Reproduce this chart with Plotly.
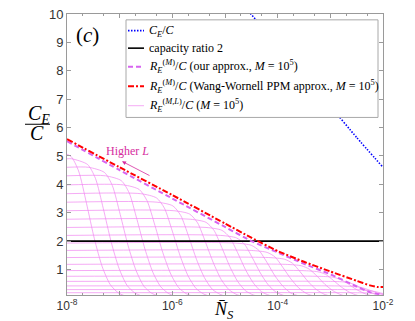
import plotly.graph_objects as go

# ---------------- data (x given as log10 of N_S) ----------------
ce_exp = [-4.6, -4.0, -3.5, -3.0, -2.5, -2.0]
ce_val = [10.2, 8.9, 7.8, 6.75, 5.65, 4.6]

ratio2_exp = [-8, -2]
ratio2_val = [2, 2]

ours_exp = [-8, -7, -6, -5, -4.5, -4, -3.5, -3, -2.5, -2.25, -2]
ours_val = [5.52, 4.5, 3.5, 2.5, 2.0, 1.6, 1.2, 0.83, 0.4, 0.2, 0.1]

ww_exp = [-8, -7, -6, -5, -4.5, -4, -3.5, -3, -2.5, -2.25, -2.1, -2]
ww_val = [5.59, 4.6, 3.62, 2.62, 2.12, 1.65, 1.27, 0.93, 0.6, 0.44, 0.38, 0.38]

# R_E^(M,L)/C family, one curve per L
mesh_exp = [
    [-8.23, -7.93, -7.78, -7.63, -7.48, -7.33, -7.18, -7.03, -6.88],
    [-8, -7.91, -7.61, -7.46, -7.31, -7.16, -7.01, -6.86, -6.71, -6.56],
    [-8, -7.59, -7.29, -7.14, -6.99, -6.84, -6.69, -6.54, -6.39, -6.24],
    [-8, -7.27, -6.97, -6.82, -6.67, -6.52, -6.37, -6.22, -6.07, -5.92],
    [-8, -6.93, -6.63, -6.48, -6.33, -6.18, -6.03, -5.88, -5.73, -5.58],
    [-8, -6.60, -6.30, -6.15, -6.00, -5.85, -5.70, -5.55, -5.40, -5.25],
    [-8, -6.29, -5.99, -5.84, -5.69, -5.54, -5.39, -5.24, -5.09, -4.94],
    [-8, -5.97, -5.67, -5.52, -5.37, -5.22, -5.07, -4.92, -4.77, -4.62],
    [-8, -5.66, -5.36, -5.21, -5.06, -4.91, -4.76, -4.61, -4.46, -4.31],
    [-8, -5.36, -5.06, -4.91, -4.76, -4.61, -4.46, -4.31, -4.16, -4.01],
    [-8, -5.08, -4.78, -4.63, -4.48, -4.33, -4.18, -4.03, -3.88, -3.73],
    [-8, -4.80, -4.50, -4.35, -4.20, -4.05, -3.90, -3.75, -3.60, -3.45],
    [-8, -4.50, -4.20, -4.05, -3.90, -3.75, -3.60, -3.45, -3.30, -3.15],
    [-8, -4.17, -3.87, -3.72, -3.57, -3.42, -3.27, -3.12, -2.97, -2.82],
    [-8, -3.85, -3.55, -3.40, -3.25, -3.10, -2.95, -2.80, -2.65, -2.50],
    [-8, -3.54, -3.24, -3.09, -2.94, -2.79, -2.64, -2.49, -2.34, -2.19],
    [-8, -3.26, -2.96, -2.81, -2.66, -2.51, -2.36, -2.21, -2.06, -1.91],
    [-8, -3.04, -2.74, -2.59, -2.44, -2.29, -2.14, -1.99, -1.84],
    [-8, -2.85, -2.55, -2.40, -2.25, -2.10, -1.95, -1.80],
    [-8, -2.68, -2.38, -2.23, -2.08, -1.93, -1.78],
    [-8, -2.53, -2.23, -2.08, -1.93, -1.78],
]
mesh_val = [
    [5.2, 4.99, 4.47, 3.33, 2.08, 1.09, 0.47, 0.18, 0.05],
    [4.9, 4.9, 4.70, 4.21, 3.14, 1.96, 1.03, 0.44, 0.17, 0.05],
    [4.6, 4.6, 4.42, 3.96, 2.94, 1.84, 0.97, 0.41, 0.16, 0.05],
    [4.3, 4.3, 4.13, 3.70, 2.75, 1.72, 0.90, 0.39, 0.15, 0.04],
    [3.98, 3.98, 3.82, 3.42, 2.55, 1.59, 0.84, 0.36, 0.14, 0.04],
    [3.67, 3.67, 3.52, 3.16, 2.35, 1.47, 0.77, 0.33, 0.13, 0.04],
    [3.37, 3.37, 3.24, 2.90, 2.16, 1.35, 0.71, 0.30, 0.12, 0.03],
    [3.07, 3.07, 2.95, 2.64, 1.96, 1.23, 0.64, 0.28, 0.11, 0.03],
    [2.77, 2.77, 2.66, 2.38, 1.77, 1.11, 0.58, 0.25, 0.10, 0.03],
    [2.48, 2.48, 2.38, 2.13, 1.59, 0.99, 0.52, 0.22, 0.09, 0.02],
    [2.2, 2.2, 2.11, 1.89, 1.41, 0.88, 0.46, 0.20, 0.08, 0.02],
    [1.93, 1.93, 1.85, 1.66, 1.24, 0.77, 0.41, 0.17, 0.07, 0.02],
    [1.67, 1.67, 1.60, 1.44, 1.07, 0.67, 0.35, 0.15, 0.06, 0.02],
    [1.42, 1.42, 1.36, 1.22, 0.91, 0.57, 0.30, 0.13, 0.05, 0.01],
    [1.18, 1.18, 1.13, 1.01, 0.76, 0.47, 0.25, 0.11, 0.04, 0.01],
    [0.96, 0.96, 0.92, 0.83, 0.61, 0.38, 0.20, 0.09, 0.03, 0.01],
    [0.76, 0.76, 0.73, 0.65, 0.49, 0.30, 0.16, 0.07, 0.03, 0.01],
    [0.58, 0.58, 0.56, 0.50, 0.37, 0.23, 0.12, 0.05, 0.02],
    [0.42, 0.42, 0.40, 0.36, 0.27, 0.17, 0.09, 0.04],
    [0.29, 0.29, 0.28, 0.25, 0.19, 0.12, 0.06],
    [0.18, 0.18, 0.17, 0.15, 0.12, 0.07],
]

xtick_exp = [-8, -7, -6, -5, -4, -3, -2]
xtick_text = ["10<sup>-8</sup>", "", "10<sup>-6</sup>", "", "10<sup>-4</sup>", "", "10<sup>-2</sup>"]
ytick_vals = [1, 2, 3, 4, 5, 6, 7, 8, 9, 10]

legend_labels = [
    "<i>C</i><sub><i>E</i></sub>/<i>C</i>",
    "capacity ratio 2",
    "<i>R</i><sub><i>E</i></sub><sup>(<i>M</i>)</sup>/<i>C</i> (our approx., <i>M</i> = 10<sup>5</sup>)",
    "<i>R</i><sub><i>E</i></sub><sup>(<i>M</i>)</sup>/<i>C</i> (Wang-Wornell PPM approx., <i>M</i> = 10<sup>5</sup>)",
    "<i>R</i><sub><i>E</i></sub><sup>(<i>M,L</i>)</sup>/<i>C</i> (<i>M</i> = 10<sup>5</sup>)",
]


def to_n(exps):
    return [10 ** e for e in exps]


SERIF = "Liberation Serif, DejaVu Serif, serif"
SANS = "Liberation Sans, Arial, sans-serif"
MESH_COLOR = "rgba(240,130,240,0.85)"
PINK = "rgb(215,100,240)"
MAGENTA = "rgb(214,45,160)"

styles = [
    dict(color="blue", width=1.6, dash="1.5px,1.5px"),
    dict(color="black", width=1.6),
    dict(color=PINK, width=2, dash="5px,3px"),
    dict(color="red", width=2, dash="6px,2px,2px,2px"),
    dict(color=MESH_COLOR, width=0.8),
]

fig = go.Figure()

for i, (xe, yv) in enumerate(zip(mesh_exp, mesh_val)):
    fig.add_trace(go.Scatter(
        x=to_n(xe), y=yv, mode="lines",
        line=dict(styles[4], shape="spline", smoothing=0.7),
        name="R_E^(M,L)/C (M = 10^5)", showlegend=False, hoverinfo="skip"))

fig.add_trace(go.Scatter(x=to_n(ratio2_exp), y=ratio2_val, mode="lines",
                         line=styles[1], name="capacity ratio 2", showlegend=False))
fig.add_trace(go.Scatter(x=to_n(ours_exp), y=ours_val, mode="lines",
                         line=dict(styles[2], shape="spline", smoothing=0.6),
                         name="our approx.", showlegend=False))
fig.add_trace(go.Scatter(x=to_n(ww_exp), y=ww_val, mode="lines",
                         line=dict(styles[3], shape="spline", smoothing=0.6),
                         name="Wang-Wornell PPM approx.", showlegend=False))
fig.add_trace(go.Scatter(x=to_n(ce_exp), y=ce_val, mode="lines",
                         line=dict(styles[0], shape="spline", smoothing=0.5),
                         name="C_E/C", showlegend=False))

axis_col = "#9a9a9a"
fig.update_xaxes(
    type="log", range=[-8, -2],
    tickvals=to_n(xtick_exp), ticktext=xtick_text,
    ticks="inside", ticklen=4, tickcolor=axis_col,
    minor=dict(ticks="inside", ticklen=2, tickcolor=axis_col, showgrid=False),
    showline=True, linecolor=axis_col, linewidth=1, mirror="ticks",
    showgrid=False, zeroline=False, ticklabeloverflow="allow",
    tickfont=dict(family=SANS, size=12, color="#333333"))
fig.update_yaxes(
    range=[0.1, 10.002], tickvals=ytick_vals,
    ticks="inside", ticklen=4, tickcolor=axis_col,
    showline=True, linecolor=axis_col, linewidth=1, mirror="ticks",
    showgrid=False, zeroline=False, ticklabeloverflow="allow",
    tickfont=dict(family=SANS, size=13, color="#333333"))


def px_x(p):
    return (p - 67) / 316


def px_y(p):
    return (295 - p) / 288


annotations = [
    dict(text="(<i>c</i>)", x=px_x(87), y=px_y(29)),
    dict(text="<i>C</i><sub><i>E</i></sub>", x=px_x(39), y=px_y(110), size=20),
    dict(text="<i>C</i>", x=px_x(37), y=px_y(129), size=20),
    dict(text="<i>N\u0304</i><sub><i>S</i></sub>", x=px_x(224), y=px_y(311), size=18),
    dict(text="Higher <i>L</i>", x=px_x(127), y=px_y(147), size=12, color=MAGENTA),
]
ann = []
for a in annotations:
    ann.append(dict(text=a["text"], x=a["x"], y=a["y"], xref="paper", yref="paper",
                    xanchor="center", yanchor="middle", showarrow=False,
                    font=dict(family=SERIF, size=a.get("size", 21), color=a.get("color", "black"))))
ann.append(dict(text="", x=px_x(122), y=px_y(158), xref="paper", yref="paper",
                showarrow=True, ax=29, ay=15, arrowhead=2, arrowsize=1, arrowwidth=0.8,
                arrowcolor=MAGENTA))

shapes = [dict(type="line", xref="paper", yref="paper",
               x0=px_x(25), x1=px_x(50), y0=px_y(120), y1=px_y(120),
               line=dict(color="black", width=1))]

# legend box (drawn by hand to match the reference layout)
shapes.append(dict(type="rect", xref="paper", yref="paper", layer="above",
                   x0=px_x(126), x1=px_x(378), y0=px_y(113), y1=px_y(13),
                   fillcolor="white", line=dict(color="#a8a8a8", width=1)))
entry_py = [24, 42, 61, 81, 101]
for lab, st, py in zip(legend_labels, styles, entry_py):
    shapes.append(dict(type="line", xref="paper", yref="paper", layer="above",
                       x0=px_x(128), x1=px_x(144), y0=px_y(py), y1=px_y(py),
                       line=st))
    ann.append(dict(text=lab, x=px_x(147), y=px_y(py), xref="paper", yref="paper",
                    xanchor="left", yanchor="middle", showarrow=False,
                    font=dict(family=SERIF, size=12, color="black")))

fig.update_layout(
    width=415, height=321,
    margin=dict(l=67, r=32, t=7, b=26),
    paper_bgcolor="white", plot_bgcolor="white",
    annotations=ann, shapes=shapes,
    showlegend=False,
    hovermode=False,
)

fig.write_html("out.html", config={"displayModeBar": False},
               post_script="document.body.style.margin='0';document.body.style.padding='0';")
